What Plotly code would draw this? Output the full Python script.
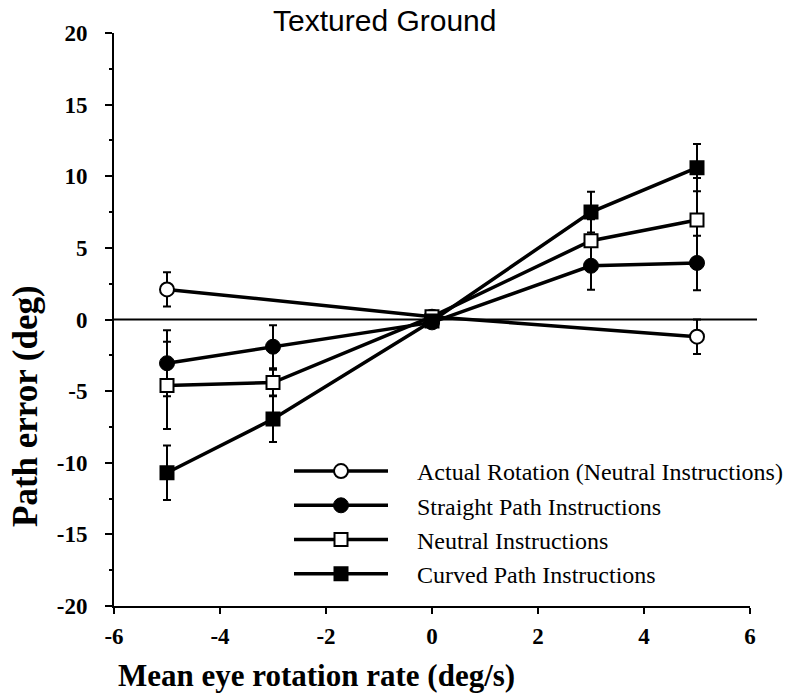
import plotly.graph_objects as go

# ---- data ----
x_actual = [-5, 0, 5]
y_actual = [2.1, 0.2, -1.2]
e_actual = [1.2, 0.0, 1.2]

x_rates = [-5, -3, 0, 3, 5]
y_straight = [-3.05, -1.9, -0.2, 3.75, 3.95]
e_straight = [2.3, 1.5, 0.0, 1.67, 1.9]
y_neutral = [-4.6, -4.4, 0.2, 5.5, 6.95]
e_neutral = [3.05, 0.9, 0.0, 1.5, 2.93]
y_curved = [-10.7, -6.95, -0.1, 7.5, 10.6]
e_curved = [1.9, 1.6, 0.0, 1.42, 1.65]

names = ["Actual Rotation (Neutral Instructions)", "Straight Path Instructions",
         "Neutral Instructions", "Curved Path Instructions"]

x_ticks = [-6, -4, -2, 0, 2, 4, 6]
y_ticks = [-20, -15, -10, -5, 0, 5, 10, 15, 20]

title_text = "Textured Ground"
x_title = "Mean eye rotation rate (deg/s)"
y_title = "Path error (deg)"

W, H = 788, 694
L, R, T, B = 114, 38, 33, 88
PW, PH = W - L - R, H - T - B

serif = "Liberation Serif"


def err(arr):
    return dict(type="data", array=arr, visible=True, color="black", thickness=2, width=4)


def px(xp):
    return (xp - L) / PW


def py(yp):
    return (H - B - yp) / PH


fig = go.Figure()
line = dict(color="black", width=3.5)
pad = "\u00a0" * 4
fig.add_trace(go.Scatter(x=x_actual, y=y_actual, error_y=err(e_actual), mode="lines+markers",
                         name=pad + names[0], line=line,
                         marker=dict(symbol="circle", size=14, color="white",
                                     line=dict(color="black", width=2))))
fig.add_trace(go.Scatter(x=x_rates, y=y_straight, error_y=err(e_straight), mode="lines+markers",
                         name=pad + names[1], line=line,
                         marker=dict(symbol="circle", size=15, color="black",
                                     line=dict(color="black", width=1))))
fig.add_trace(go.Scatter(x=x_rates, y=y_neutral, error_y=err(e_neutral), mode="lines+markers",
                         name=pad + names[2], line=line,
                         marker=dict(symbol="square", size=13, color="white",
                                     line=dict(color="black", width=2))))
fig.add_trace(go.Scatter(x=x_rates, y=y_curved, error_y=err(e_curved), mode="lines+markers",
                         name=pad + names[3], line=line,
                         marker=dict(symbol="square", size=13, color="black",
                                     line=dict(color="black", width=2))))

fig.add_shape(type="line", xref="paper", yref="y", x0=0, x1=px(757), y0=0, y1=0,
              line=dict(color="black", width=2), layer="below")

tickfont = dict(family=serif, size=23, color="black")

fig.update_layout(
    width=W, height=H,
    margin=dict(l=L, r=R, t=T, b=B, autoexpand=False),
    paper_bgcolor="white", plot_bgcolor="white",
    showlegend=True,
    legend=dict(x=px(289), y=py(449),
                xanchor="left", yanchor="top",
                font=dict(family=serif, size=24, color="black"),
                itemwidth=94, bgcolor="rgba(0,0,0,0)", tracegroupgap=0),
    xaxis=dict(range=[-6, 6], tickvals=x_ticks, ticktext=["<b>%d</b>" % v for v in x_ticks],
               showgrid=False, zeroline=False, showline=True, linecolor="black", linewidth=2,
               ticks="outside", ticklen=6, tickwidth=2, tickcolor="black",
               tickfont=tickfont, ticklabelstandoff=2, automargin=False),
    yaxis=dict(range=[-20, 20], tickvals=y_ticks, ticktext=["<b>%d</b>" % v for v in y_ticks],
               showgrid=False, zeroline=False, showline=True, linecolor="black", linewidth=2,
               ticks="outside", ticklen=7, tickwidth=2, tickcolor="black",
               minor=dict(dtick=2.5, ticks="outside", ticklen=3, tickwidth=2, tickcolor="black"),
               tickfont=tickfont, ticklabelstandoff=13, automargin=False),
    annotations=[
        dict(text=title_text, xref="paper", yref="paper", x=px(384),
             y=py(21), xanchor="center", yanchor="middle", showarrow=False,
             font=dict(family="Liberation Sans", size=30, color="black")),
        dict(text="<b>" + x_title + "</b>", xref="paper", yref="paper", x=px(316),
             y=py(675), xanchor="center", yanchor="middle", showarrow=False,
             font=dict(family=serif, size=31, color="black")),
        dict(text="<b>" + y_title + "</b>", xref="paper", yref="paper", x=px(25),
             y=py(406), xanchor="center", yanchor="middle", showarrow=False,
             textangle=-90, font=dict(family=serif, size=35, color="black")),
    ],
)

fig.write_html("out.html")
